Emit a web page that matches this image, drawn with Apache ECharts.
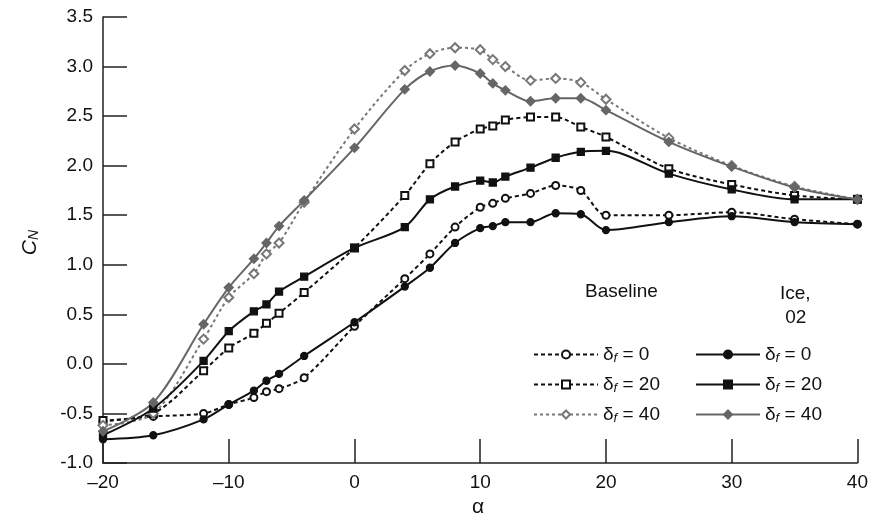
<!DOCTYPE html>
<html>
<head>
<meta charset="utf-8">
<script src="https://cdn.jsdelivr.net/npm/echarts@6/dist/echarts.min.js"></script>
<style>html,body{margin:0;background:#fff}#c{width:871px;height:525px}</style>
</head>
<body>
<div id="c"></div>
<script>
// angle of attack
const alpha = [-20, -16, -12, -10, -8, -7, -6, -4, 0, 4, 6, 8, 10, 11, 12, 14, 16, 18, 20, 25, 30, 35, 40];

// baseline
const base0  = [-0.58, -0.53, -0.50, -0.41, -0.34, -0.28, -0.25, -0.14, 0.38, 0.86, 1.11, 1.38, 1.58, 1.62, 1.67, 1.72, 1.80, 1.75, 1.50, 1.50, 1.53, 1.46, 1.41];
const base20 = [-0.57, -0.50, -0.07, 0.16, 0.31, 0.41, 0.51, 0.72, 1.17, 1.70, 2.02, 2.24, 2.37, 2.40, 2.46, 2.49, 2.49, 2.39, 2.29, 1.97, 1.81, 1.70, 1.66];
const base40 = [-0.62, -0.50, 0.25, 0.67, 0.91, 1.11, 1.22, 1.63, 2.37, 2.96, 3.13, 3.19, 3.17, 3.07, 3.00, 2.86, 2.88, 2.84, 2.67, 2.28, 2.00, 1.79, 1.66];

// ice 02
const ice0  = [-0.76, -0.72, -0.56, -0.41, -0.27, -0.17, -0.10, 0.08, 0.42, 0.78, 0.97, 1.22, 1.37, 1.39, 1.43, 1.43, 1.52, 1.51, 1.35, 1.43, 1.49, 1.43, 1.41];
const ice20 = [-0.72, -0.45, 0.03, 0.33, 0.53, 0.60, 0.73, 0.88, 1.17, 1.38, 1.66, 1.79, 1.85, 1.83, 1.89, 1.98, 2.08, 2.14, 2.15, 1.92, 1.76, 1.66, 1.66];
const ice40 = [-0.68, -0.39, 0.40, 0.77, 1.06, 1.22, 1.39, 1.65, 2.18, 2.77, 2.95, 3.01, 2.93, 2.83, 2.76, 2.65, 2.68, 2.68, 2.56, 2.24, 1.99, 1.78, 1.66];

const FONT = 'Liberation Sans';
const pairs = arr => alpha.map((a, i) => [a, arr[i]]);

function line(name, data, color, type, symbol, size) {
    return {
        name: name, type: 'line', smooth: 0.3, data: pairs(data),
        symbol: symbol, symbolSize: size,
        lineStyle: {color: color, width: 2, type: type},
        itemStyle: {color: color, borderColor: color, borderWidth: 1.3},
        z: type === 'solid' ? 3 : 2
    };
}

const names = ['b0', 'b20', 'b40', 'i0', 'i20', 'i40'];
const labels = {b0: '0', b20: '20', b40: '40', i0: '0', i20: '20', i40: '40'};
const rich = {
    d: {fontFamily: FONT, fontSize: 19, color: '#111'},
    f: {fontFamily: FONT, fontSize: 13, fontStyle: 'italic', color: '#111', verticalAlign: 'bottom', padding: [8, 0, 0, 0]},
    t: {fontFamily: FONT, fontSize: 19, color: '#111'}
};
const legendBase = {
    orient: 'vertical', itemWidth: 64, itemHeight: 10, itemGap: 10,
    formatter: n => '{d|δ}{f|f}{t| = ' + labels[n] + '}',
    textStyle: {rich: rich}
};

const chart = echarts.init(document.getElementById('c'));
chart.setOption({
    animation: false,
    grid: {left: 103, right: 12, top: 17, bottom: 62},
    xAxis: {
        type: 'value', min: -20, max: 40, interval: 10,
        axisLine: {onZero: false, lineStyle: {color: '#222', width: 1.5}},
        axisTick: {inside: true, length: 24, lineStyle: {color: '#222', width: 1.5}},
        axisLabel: {fontFamily: FONT, fontSize: 19, color: '#111', margin: 10, formatter: v => v < 0 ? '\u2013' + (-v) : v},
        splitLine: {show: false}
    },
    yAxis: {
        type: 'value', min: -1, max: 3.5, interval: 0.5,
        axisLine: {show: true, onZero: false, lineStyle: {color: '#222', width: 1.5}},
        axisTick: {inside: true, length: 24, lineStyle: {color: '#222', width: 1.5}},
        axisLabel: {fontFamily: FONT, fontSize: 19, color: '#111', margin: 10, formatter: v => v.toFixed(1)},
        splitLine: {show: false}
    },
    legend: [
        Object.assign({left: 528, top: 340, data: names.slice(0, 3)}, legendBase),
        Object.assign({left: 690, top: 340, data: names.slice(3)}, legendBase)
    ],
    graphic: [
        {type: 'text', left: 585, top: 282, style: {text: 'Baseline', font: '19px ' + FONT, fill: '#111'}},
        {type: 'text', left: 780, top: 282, style: {text: 'Ice,\n 02', font: '19px ' + FONT, fill: '#111', lineHeight: 24}},
        {type: 'text', left: 20, top: 230, rotation: Math.PI / 2,
            style: {text: '{c|C}{n|N}', rich: {
                c: {fontFamily: FONT, fontSize: 21, fontStyle: 'italic', fill: '#111'},
                n: {fontFamily: FONT, fontSize: 14, fontStyle: 'italic', fill: '#111', padding: [8, 0, 0, 0]}}}},
        {type: 'text', left: 472, top: 497, style: {text: 'α', font: '21px ' + FONT, fill: '#111'}}
    ],
    series: [
        line('b0', base0, '#111', [4, 3], 'emptyCircle', 7),
        line('b20', base20, '#111', [4, 3], 'emptyRect', 7),
        line('b40', base40, '#777', [3, 3], 'emptyDiamond', 9),
        line('i0', ice0, '#111', 'solid', 'circle', 7),
        line('i20', ice20, '#111', 'solid', 'rect', 7),
        line('i40', ice40, '#666', 'solid', 'diamond', 9)
    ]
});
</script>
</body>
</html>
